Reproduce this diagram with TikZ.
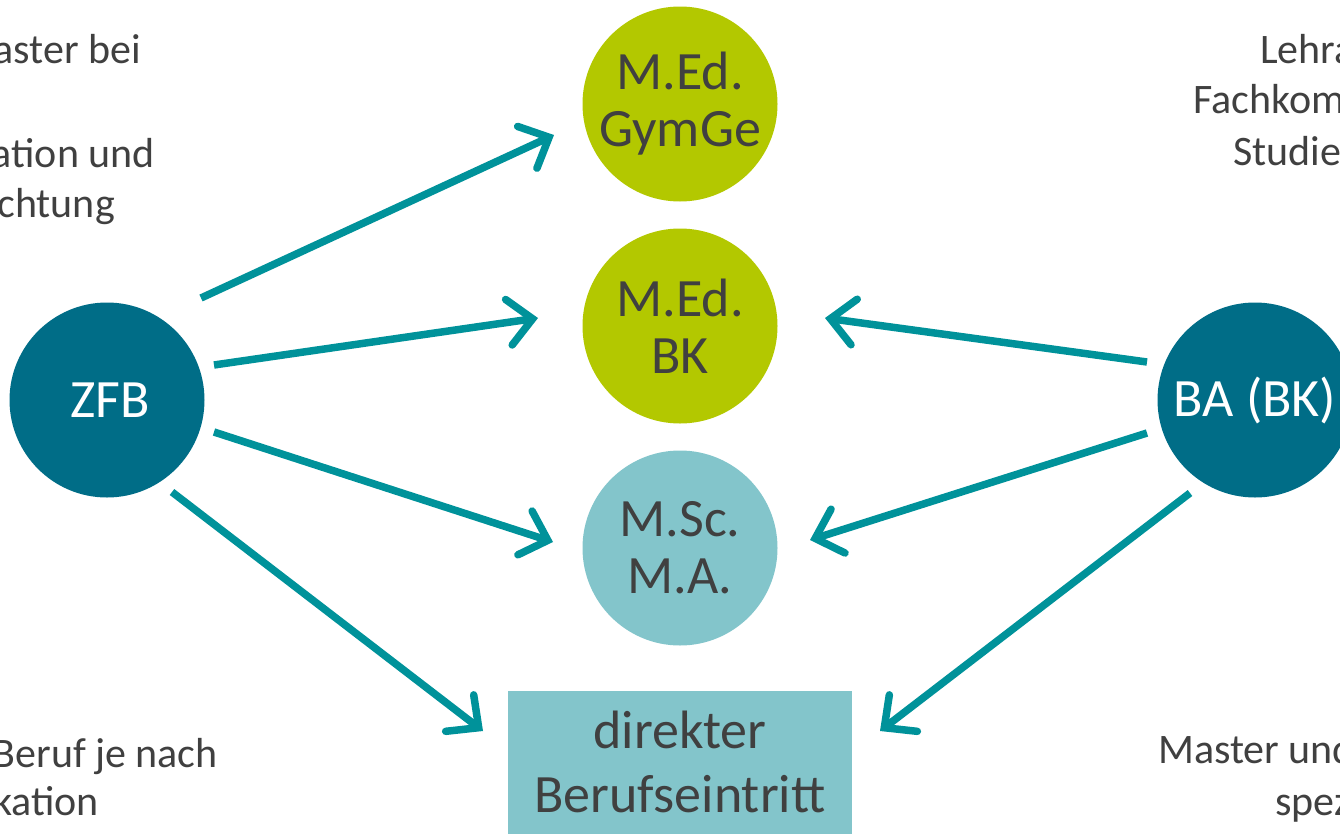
\documentclass[tikz,border=0pt]{standalone}
\usepackage{fontspec}
\setmainfont{Carlito}
\usetikzlibrary{arrows.meta}
\definecolor{darkteal}{HTML}{006D87}
\definecolor{arrowteal}{HTML}{00929A}
\definecolor{limegreen}{HTML}{B3C800}
\definecolor{lightteal}{HTML}{83C5CB}
\definecolor{txtgray}{HTML}{404040}
\begin{document}
\begin{tikzpicture}[x=1pt,y=-1pt,
  bigcirc/.style={circle,minimum size=195pt,inner sep=0pt,font=\fontsize{54}{57}\selectfont,align=center},
  dark/.style={bigcirc,fill=darkteal,text=white},
  lime/.style={bigcirc,fill=limegreen,text=txtgray},
  light/.style={bigcirc,fill=lightteal,text=txtgray},
  boxtxt/.style={inner sep=0pt,font=\fontsize{54}{57}\selectfont,text=txtgray,anchor=base},
  side/.style={inner sep=0pt,font=\fontsize{42}{52}\selectfont,text=txtgray},
  arr/.style={draw=arrowteal,line width=7.5pt,-{Straight Barb[length=24pt,width=46pt,line cap=round]}}]
\useasboundingbox (0,0) rectangle (1340,833);
\clip (0,0) rectangle (1340,833);

% circles
\node[lime] (gym) at (680,104) {M.Ed.\\GymGe};
\node[lime] (bk) at (680,326) {M.Ed.\\BK};
\node[light] (msc) at (680,548) {M.Sc.\\M.A.};
\node[dark] (zfb) at (107,400) {\hspace*{6pt}ZFB};
\node[dark] (ba) at (1255,400) {BA (BK)};

% box
\node[fill=lightteal,minimum width=344pt,minimum height=170pt,inner sep=0pt,anchor=north] (box) at (680,691) {};
\node[boxtxt] (box1) at (680,748) {direkter};
\node[boxtxt] (box2) at (680,812) {Berufseintritt};

% arrow end points
\coordinate (zs1) at (201,298);
\coordinate (zs2) at (214,365);
\coordinate (zs3) at (214,432);
\coordinate (zs4) at (172,492);
\coordinate (bs1) at (1147,362);
\coordinate (bs2) at (1147,433);
\coordinate (bs3) at (1190,493);
\coordinate (tgym) at (554,135);
\coordinate (tbkl) at (538,318);
\coordinate (tmscl) at (553,542);
\coordinate (tboxl) at (483,731);
\coordinate (tbkr) at (825,318);
\coordinate (tmscr) at (810,540);
\coordinate (tboxr) at (880,731);

\draw[arr] (zs1) -- (tgym);
\draw[arr] (zs2) -- (tbkl);
\draw[arr] (zs3) -- (tmscl);
\draw[arr] (zs4) -- (tboxl);
\draw[arr] (bs1) -- (tbkr);
\draw[arr] (bs2) -- (tmscr);
\draw[arr] (bs3) -- (tboxr);

% side texts (cut by the frame)
\node[side,anchor=base east] (l1) at (141,63) {aster bei};
\node[side,anchor=base east] (l2) at (155,167) {ation und};
\node[side,anchor=base east] (l3) at (115,217) {chtung};
\node[side,anchor=base east] (l4) at (218,767) {Beruf je nach};
\node[side,anchor=base east] (l5) at (99,815) {kation};
\node[side,anchor=base west] (r1) at (1260,63) {Lehra};
\node[side,anchor=base west] (r2) at (1193,113) {Fachkom};
\node[side,anchor=base west] (r3) at (1233,165) {Studie};
\node[side,anchor=base west] (r4) at (1158,763) {Master und};
\node[side,anchor=base west] (r5) at (1275,815) {spez};
\end{tikzpicture}
\end{document}
